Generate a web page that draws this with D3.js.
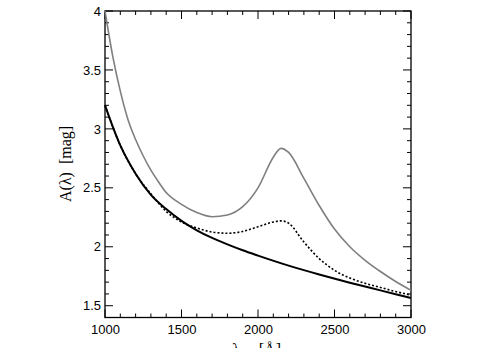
<!DOCTYPE html>
<html>
<head>
<meta charset="utf-8">
<script src="https://cdn.jsdelivr.net/npm/d3@7"></script>
<style>
  html, body { margin: 0; padding: 0; background: #fff; }
  svg { display: block; }
  .tick text { font-family: "Liberation Sans", Arial, sans-serif; font-size: 13px; fill: #000; }
</style>
</head>
<body>
<svg id="chart" width="482" height="348"></svg>
<script>
// Extinction curves A(λ) in magnitudes versus wavelength in Ångström
const wavelengthSolid  = [1000, 1100, 1200, 1300, 1400, 1500, 1600, 1700, 1800, 1900, 2000, 2200, 2400, 2600, 2800, 3000];
const extinctionSolid  = [3.20, 2.86, 2.62, 2.44, 2.32, 2.22, 2.14, 2.075, 2.02, 1.97, 1.925, 1.84, 1.765, 1.695, 1.63, 1.565];

const wavelengthDotted = [1000, 1100, 1200, 1300, 1400, 1500, 1600, 1700, 1800, 1900, 2000, 2100, 2150, 2200, 2300, 2400, 2500, 2600, 2700, 2800, 2900, 3000];
const extinctionDotted = [3.20, 2.86, 2.62, 2.45, 2.30, 2.21, 2.16, 2.125, 2.115, 2.13, 2.17, 2.21, 2.22, 2.20, 2.04, 1.90, 1.80, 1.735, 1.69, 1.655, 1.62, 1.59];

const wavelengthGray   = [1000, 1050, 1100, 1150, 1200, 1250, 1300, 1350, 1400, 1500, 1600, 1700, 1800, 1900, 2000, 2100, 2150, 2200, 2300, 2400, 2500, 2600, 2700, 2800, 2900, 3000];
const extinctionGray   = [4.00, 3.62, 3.32, 3.08, 2.91, 2.77, 2.65, 2.55, 2.46, 2.36, 2.29, 2.255, 2.27, 2.34, 2.50, 2.76, 2.835, 2.80, 2.58, 2.35, 2.15, 2.00, 1.885, 1.79, 1.705, 1.63];

const xMajorTicks = [1000, 1500, 2000, 2500, 3000];
const yMajorTicks = [1.5, 2, 2.5, 3, 3.5, 4];

const svg = d3.select("#chart");
const plotLeft = 105, plotRight = 411, plotTop = 11, plotBottom = 317.5;

const x = d3.scaleLinear().domain([1000, 3000]).range([plotLeft, plotRight]);
const y = d3.scaleLinear().domain([1.4, 4]).range([plotBottom, plotTop]);

const xMinor = d3.range(1000, 3001, 100).filter(v => v % 500 !== 0);
const yMinor = d3.range(14, 41, 1).map(v => v / 10).filter(v => Math.round(v * 10) % 5 !== 0);

const majorLen = 8, minorLen = 4;

// Tick labels through D3 axes (tick lines drawn separately, pointing inward)
svg.append("g").attr("transform", `translate(0,${plotBottom})`)
  .call(d3.axisBottom(x).tickValues(xMajorTicks).tickFormat(d3.format("d"))
        .tickSize(0).tickPadding(7));
svg.append("g").attr("transform", `translate(${plotLeft},0)`)
  .call(d3.axisLeft(y).tickValues(yMajorTicks).tickFormat(d => String(d))
        .tickSize(0).tickPadding(4));
svg.selectAll(".domain").remove();
svg.selectAll(".tick line").remove();

// Inward ticks on all four sides
const ticks = svg.append("g").attr("stroke", "#000").attr("stroke-width", 1);
const xTickSet = xMajorTicks.map(v => [v, majorLen]).concat(xMinor.map(v => [v, minorLen]));
const yTickSet = yMajorTicks.map(v => [v, majorLen]).concat(yMinor.map(v => [v, minorLen]));

ticks.selectAll(".xb").data(xTickSet).join("line")
  .attr("x1", d => x(d[0])).attr("x2", d => x(d[0]))
  .attr("y1", plotBottom).attr("y2", d => plotBottom - d[1]);
ticks.selectAll(".xt").data(xTickSet).join("line")
  .attr("x1", d => x(d[0])).attr("x2", d => x(d[0]))
  .attr("y1", plotTop).attr("y2", d => plotTop + d[1]);
ticks.selectAll(".yl").data(yTickSet).join("line")
  .attr("y1", d => y(d[0])).attr("y2", d => y(d[0]))
  .attr("x1", plotLeft).attr("x2", d => plotLeft + d[1]);
ticks.selectAll(".yr").data(yTickSet).join("line")
  .attr("y1", d => y(d[0])).attr("y2", d => y(d[0]))
  .attr("x1", plotRight).attr("x2", d => plotRight - d[1]);

// Frame
svg.append("rect")
  .attr("x", plotLeft).attr("y", plotTop)
  .attr("width", plotRight - plotLeft).attr("height", plotBottom - plotTop)
  .attr("fill", "none").attr("stroke", "#000").attr("stroke-width", 1.3);

// Curves
const linePath = (xs, ys) => d3.line()
  .x((d, i) => x(xs[i]))
  .y((d, i) => y(ys[i]))
  .curve(d3.curveMonotoneX)(ys);

const plot = svg.append("g");
plot.append("path")
  .attr("d", linePath(wavelengthGray, extinctionGray))
  .attr("fill", "none").attr("stroke", "#7f7f7f").attr("stroke-width", 1.6);
plot.append("path")
  .attr("d", linePath(wavelengthDotted, extinctionDotted))
  .attr("fill", "none").attr("stroke", "#000").attr("stroke-width", 1.6)
  .attr("stroke-dasharray", "2,2");
plot.append("path")
  .attr("d", linePath(wavelengthSolid, extinctionSolid))
  .attr("fill", "none").attr("stroke", "#000").attr("stroke-width", 2);

// Axis titles
const xTitle = svg.append("text")
  .attr("x", 232).attr("y", 355)
  .attr("fill", "#000")
  .attr("font-family", "Liberation Serif, Times New Roman, serif")
  .attr("font-size", 16);
xTitle.append("tspan").text("λ");
xTitle.append("tspan").attr("dx", 19).text("[Å]");

svg.append("text")
  .attr("transform", "translate(71,164) rotate(-90)")
  .attr("text-anchor", "middle")
  .attr("fill", "#000")
  .attr("font-family", "Liberation Serif, Times New Roman, serif")
  .attr("font-size", 16)
  .style("white-space", "pre")
  .text("A(λ)  [mag]");
</script>
</body>
</html>
